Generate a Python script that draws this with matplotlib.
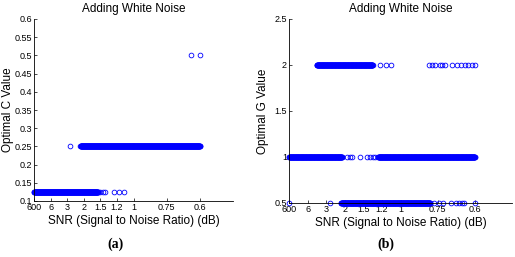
import numpy as np
import matplotlib
matplotlib.use('Agg')
import matplotlib.pyplot as plt

plt.rcParams['font.family'] = ['Liberation Sans', 'DejaVu Sans']

# 横轴刻度：噪声等级 -> SNR 标签
tick_pos = [0.01, 1, 2, 3, 4, 5, 6, 8, 10]
tick_labels = ['600', '6', '3', '2', '1.5', '1.2', '1', '0.75', '0.6']

# 采样步长（噪声等级）
step = 0.01

# (a) 最优 C 值：连续段 (起, 止) 与零散点
c_levels = [0.125, 0.25, 0.5]
c_runs = [[(0.01, 3.85)], [(2.8, 10.0)], []]
c_single = [[4.0, 4.15, 4.3, 4.8, 5.1, 5.4], [2.17], [9.45, 10.0]]

# (b) 最优 G 值
g_levels = [0.5, 1, 2]
g_runs = [[(2.8, 7.6)], [(0.01, 2.85), (4.8, 10.0)], [(1.5, 4.5)]]
g_single = [[0.0, 2.2, 7.8, 8.05, 8.3, 8.7, 9.0, 9.15, 9.3, 9.4, 10.0],
            [3.1, 3.3, 3.4, 3.8, 4.2, 4.35, 4.5, 4.65],
            [4.9, 5.2, 5.5, 7.55, 7.7, 7.85, 8.1, 8.25, 8.4, 8.75, 9.05, 9.25, 9.45, 9.65, 9.85, 10.0]]


def expand(runs, single):
    xs = [np.arange(a, b + step / 2, step) for a, b in runs]
    xs.append(np.array(single, dtype=float))
    return np.concatenate(xs)


def draw(ax, levels, runs, single, ylim, yticks, ylabel, ylab_x):
    for lv, r, s in zip(levels, runs, single):
        x = expand(r, s)
        ax.plot(x, np.full_like(x, lv), 'o', color='#0000ff', mfc='none',
                ms=3.4, mew=0.6, clip_on=False)
    ax.set_xlim(0, 12)
    ax.set_ylim(*ylim)
    ax.set_yticks(yticks)
    ax.set_yticklabels([('%g' % v) for v in yticks])
    ax.set_xticks(tick_pos)
    ax.set_xticklabels(tick_labels)
    ax.spines['top'].set_visible(False)
    ax.spines['right'].set_visible(False)
    for sp in ax.spines.values():
        sp.set_linewidth(0.6)
    ax.tick_params(direction='in', length=2.5, width=0.5, labelsize=6.5, pad=1.5)
    ax.set_title('Adding White Noise', fontsize=8.5, pad=5)
    ax.set_xlabel('SNR (Signal to Noise Ratio) (dB)', fontsize=8.5, labelpad=2)
    ax.set_ylabel(ylabel, fontsize=8.5)
    ax.yaxis.set_label_coords(ylab_x, 0.5)


fig = plt.figure(figsize=(5.15, 2.57), dpi=100)
ax1 = fig.add_axes([34 / 515, 1 - 201 / 257, 199 / 515, 182 / 257])
ax2 = fig.add_axes([289 / 515, 1 - 203 / 257, 223 / 515, 184 / 257])

draw(ax1, c_levels, c_runs, c_single, (0.1, 0.6),
     [0.1, 0.15, 0.2, 0.25, 0.3, 0.35, 0.4, 0.45, 0.5, 0.55, 0.6],
     'Optimal C Value', -0.1)
draw(ax2, g_levels, g_runs, g_single, (0.5, 2.5),
     [0.5, 1, 1.5, 2, 2.5], 'Optimal G Value', -0.09)

fig.text(115 / 515, 1 - 244 / 257, '(a)', family='Liberation Serif', fontsize=10,
         fontweight='bold', ha='center', va='center')
fig.text(386 / 515, 1 - 244 / 257, '(b)', family='Liberation Serif', fontsize=10,
         fontweight='bold', ha='center', va='center')

fig.savefig('out.png', dpi=100)
